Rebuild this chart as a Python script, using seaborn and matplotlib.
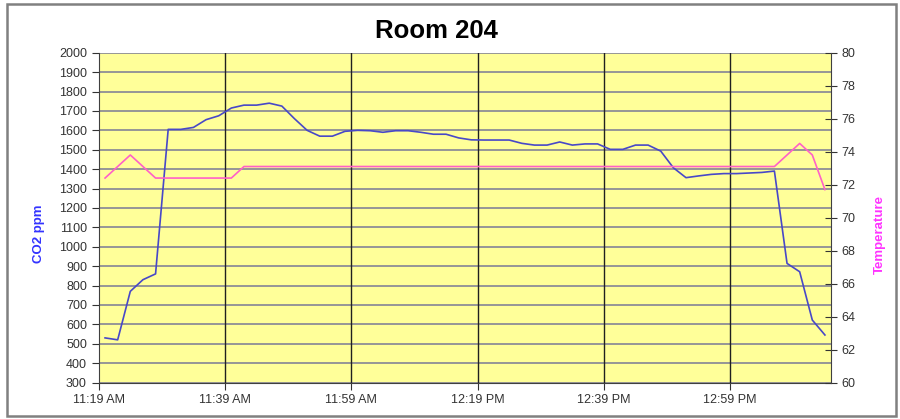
import matplotlib
matplotlib.use('Agg')
import matplotlib.pyplot as plt
import matplotlib.dates as mdates
from matplotlib.patches import Rectangle
import seaborn as sns
import pandas as pd

# readings every 2 minutes, 11:20 AM to 1:14 PM
times = pd.date_range('2000-01-01 11:20', periods=58, freq='2min')

co2 = [530, 520, 770, 830, 860, 1605, 1605, 1615, 1655, 1675,
       1715, 1730, 1730, 1740, 1725, 1660, 1600, 1570, 1570, 1595,
       1600, 1598, 1590, 1598, 1598, 1590, 1580, 1580, 1561, 1551,
       1550, 1550, 1550, 1533, 1524, 1524, 1540, 1524, 1530, 1530,
       1502, 1502, 1524, 1524, 1493, 1407, 1356, 1365, 1373, 1377,
       1377, 1380, 1383, 1390, 914, 871, 622, 545]

temperature = [72.4, 73.1, 73.8, 73.1, 72.4, 72.4, 72.4, 72.4, 72.4, 72.4,
               72.4, 73.1, 73.1, 73.1, 73.1, 73.1, 73.1, 73.1, 73.1, 73.1,
               73.1, 73.1, 73.1, 73.1, 73.1, 73.1, 73.1, 73.1, 73.1, 73.1,
               73.1, 73.1, 73.1, 73.1, 73.1, 73.1, 73.1, 73.1, 73.1, 73.1,
               73.1, 73.1, 73.1, 73.1, 73.1, 73.1, 73.1, 73.1, 73.1, 73.1,
               73.1, 73.1, 73.1, 73.1, 73.8, 74.5, 73.8, 71.7]

df = pd.DataFrame({'time': times, 'co2': co2, 'temp': temperature})

plt.rcParams['font.family'] = ['Liberation Sans', 'DejaVu Sans']

fig = plt.figure(figsize=(9, 4.19), dpi=100)
ax = fig.add_axes([0.1097, 0.0871, 0.8139, 0.787])
ax.set_facecolor('#ffff99')

# CO2 on the left axis
sns.lineplot(data=df, x='time', y='co2', ax=ax, color='#4848c8', linewidth=1.2, zorder=3)
ax.set_ylim(300, 2000)
ax.set_yticks(range(300, 2001, 100))
ax.set_xlim(pd.Timestamp('2000-01-01 11:19'), pd.Timestamp('2000-01-01 13:15'))
xticks = pd.date_range('2000-01-01 11:19', periods=6, freq='20min')
ax.set_xticks(xticks)
ax.xaxis.set_major_formatter(mdates.DateFormatter('%-I:%M %p'))

# gridlines: gray horizontal, black vertical
for v in range(300, 2001, 100):
    ax.axhline(v, color='#969696', linewidth=1.4, zorder=1)
for t in xticks[1:]:
    ax.axvline(t, color='#202020', linewidth=1.0, zorder=1)

ax.set_xlabel('')
ax.set_ylabel('CO2 ppm', color='#3333ff', fontsize=9.5, fontweight='bold')
ax.yaxis.set_label_coords(-0.074, 0.45)
ax.tick_params(axis='y', direction='out', length=5, labelsize=9, colors='#333333')
ax.tick_params(axis='x', direction='out', length=5, labelsize=9, colors='#333333', pad=3)
for s in ['left', 'bottom']:
    ax.spines[s].set_color('#404040')
ax.spines['top'].set_visible(False)
ax.spines['right'].set_visible(False)

# Temperature on the right axis
ax2 = ax.twinx()
sns.lineplot(data=df, x='time', y='temp', ax=ax2, color='#ff60c8', linewidth=1.2, zorder=3)
ax2.set_ylim(60, 80)
ax2.set_yticks(range(60, 81, 2))
ax2.set_ylabel('Temperature', color='#ff33ff', fontsize=9.5, fontweight='bold')
ax2.yaxis.set_label_coords(1.058, 0.45)
ax2.tick_params(axis='y', direction='inout', length=8, labelsize=9, colors='#333333')
ax2.spines['right'].set_color('#404040')
ax2.spines['top'].set_visible(False)
ax2.spines['left'].set_visible(False)
ax2.spines['bottom'].set_visible(False)
ax2.set_xlabel('')

fig.text(0.485, 0.9086, 'Room 204', ha='center', va='baseline',
         fontsize=18.5, fontweight='bold', color='black')

# outer chart frame
fig.patches.append(Rectangle((7 / 900, 3 / 419), 889 / 900, 412 / 419,
                             transform=fig.transFigure, fill=False,
                             edgecolor='#808080', linewidth=1.8))

fig.savefig('out.png', dpi=100)
